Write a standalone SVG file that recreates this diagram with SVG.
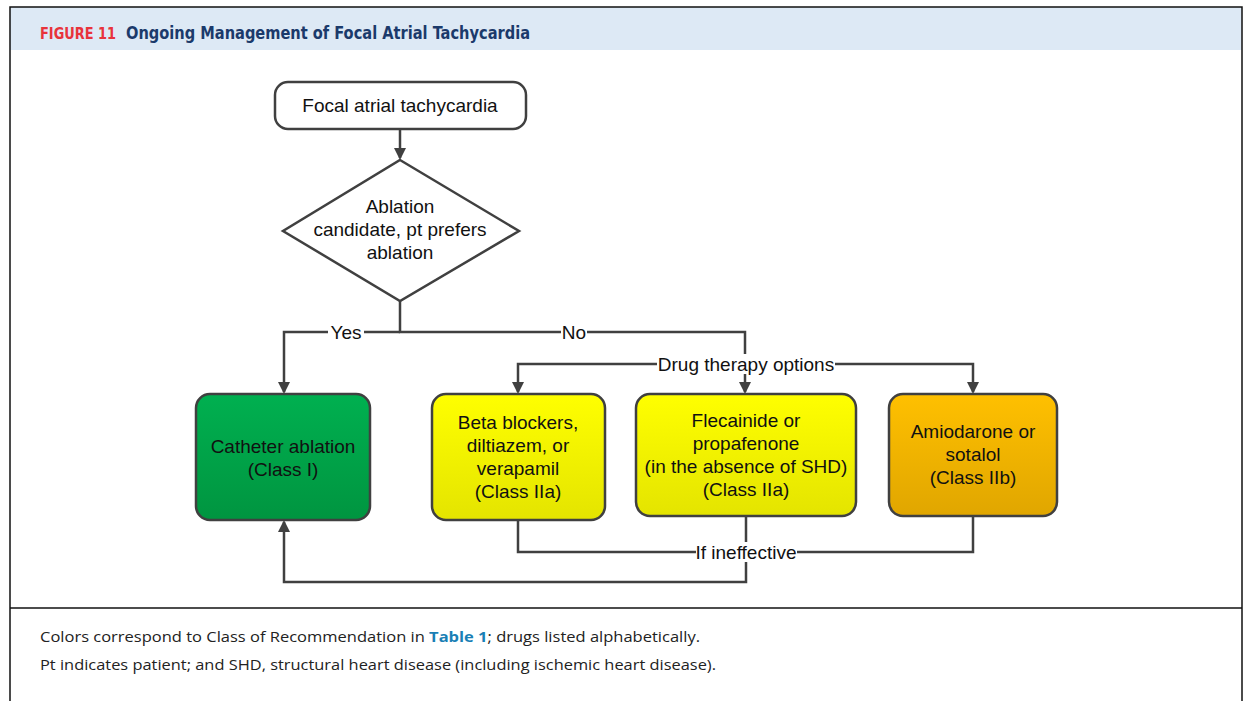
<svg xmlns="http://www.w3.org/2000/svg" width="1247" height="701" viewBox="0 0 1247 701">
<style>
.frame{fill:none;stroke:#111;stroke-width:1.5}
.box{stroke:#404040;stroke-width:2.5}
.ln{fill:none;stroke:#404040;stroke-width:2.5}
.t{font-family:"Liberation Sans",Arial,sans-serif;font-size:19px;fill:#111;text-anchor:middle}
.lbl{font-family:"Liberation Sans",Arial,sans-serif;font-size:19px;fill:#111;text-anchor:middle}
.cap{font-family:"Open Sans","DejaVu Sans",sans-serif;font-size:15px;fill:#222}
</style>
<defs>
<marker id="ah" markerWidth="12" markerHeight="12" refX="10" refY="6" orient="auto" markerUnits="userSpaceOnUse" viewBox="0 0 12 12">
<path d="M0,0 L12,6 L0,12 z" fill="#404040"/>
</marker>
<linearGradient id="gGreen" x1="0" y1="0" x2="0" y2="1"><stop offset="0" stop-color="#00b050"/><stop offset="1" stop-color="#009540"/></linearGradient>
<linearGradient id="gYellow" x1="0" y1="0" x2="0" y2="1"><stop offset="0" stop-color="#ffff00"/><stop offset="1" stop-color="#e4e400"/></linearGradient>
<linearGradient id="gOrange" x1="0" y1="0" x2="0" y2="1"><stop offset="0" stop-color="#ffc000"/><stop offset="1" stop-color="#e0a600"/></linearGradient>
</defs>
<rect width="1247" height="701" fill="#fff"/>
<rect x="10" y="7" width="1232" height="43" fill="#dde9f5"/>
<path class="frame" d="M10,710 V7 H1242 V710"/>
<line class="frame" x1="10" y1="608" x2="1242" y2="608"/>
<text x="40" y="39" font-family="'DejaVu Sans Condensed','DejaVu Sans',sans-serif" font-weight="bold" font-size="16" fill="#e8333b" textLength="76" lengthAdjust="spacingAndGlyphs">FIGURE 11</text>
<text x="126" y="39" font-family="'DejaVu Sans Condensed','DejaVu Sans',sans-serif" font-weight="bold" font-size="17" fill="#1b3a6b" textLength="404" lengthAdjust="spacingAndGlyphs">Ongoing Management of Focal Atrial Tachycardia</text>
<g id="connectors">
<line class="ln" x1="400" y1="129" x2="400" y2="158" marker-end="url(#ah)"/>
<polyline class="ln" points="400,301 400,332 745,332 745,392" marker-end="url(#ah)"/>
<polyline class="ln" points="400,332 284,332 284,392" marker-end="url(#ah)"/>
<polyline class="ln" points="745,364 518,364 518,392" marker-end="url(#ah)"/>
<polyline class="ln" points="745,364 973,364 973,392" marker-end="url(#ah)"/>
<polyline class="ln" points="518,520 518,552 973,552 973,516"/>
<polyline class="ln" points="746,516 746,582 284,582 284,522" marker-end="url(#ah)"/>
<rect x="328" y="322" width="36" height="20" fill="#fff"/>
<text class="lbl" x="346" y="339">Yes</text>
<rect x="561" y="322" width="26" height="20" fill="#fff"/>
<text class="lbl" x="574" y="339">No</text>
<rect x="657" y="354" width="178" height="20" fill="#fff"/>
<text class="lbl" x="746" y="371">Drug therapy options</text>
<rect x="696" y="542" width="101" height="20" fill="#fff"/>
<text class="lbl" x="746" y="559">If ineffective</text>
</g>
<g id="n-start">
<rect class="box" x="275" y="82" width="251" height="47" rx="13" fill="#fff"/>
<text class="t" x="400" y="112">Focal atrial tachycardia</text>
</g>
<g id="n-decision">
<polygon class="box" points="400,160 519,231 400,301 283,231" fill="#fff"/>
<text class="t" x="400" y="213">Ablation</text>
<text class="t" x="400" y="236">candidate, pt prefers</text>
<text class="t" x="400" y="259">ablation</text>
</g>
<g id="n-ablation">
<rect class="box" x="196" y="394" width="174" height="126" rx="14" fill="url(#gGreen)"/>
<text class="t" x="283" y="453">Catheter ablation</text>
<text class="t" x="283" y="476">(Class I)</text>
</g>
<g id="n-beta">
<rect class="box" x="432" y="394" width="173" height="126" rx="14" fill="url(#gYellow)"/>
<text class="t" x="518" y="429">Beta blockers,</text>
<text class="t" x="518" y="452">diltiazem, or</text>
<text class="t" x="518" y="475">verapamil</text>
<text class="t" x="518" y="498">(Class IIa)</text>
</g>
<g id="n-flec">
<rect class="box" x="636" y="394" width="220" height="122" rx="14" fill="url(#gYellow)"/>
<text class="t" x="746" y="427">Flecainide or</text>
<text class="t" x="746" y="450">propafenone</text>
<text class="t" x="746" y="473">(in the absence of SHD)</text>
<text class="t" x="746" y="496">(Class IIa)</text>
</g>
<g id="n-amio">
<rect class="box" x="889" y="394" width="168" height="122" rx="14" fill="url(#gOrange)"/>
<text class="t" x="973" y="438">Amiodarone or</text>
<text class="t" x="973" y="461">sotalol</text>
<text class="t" x="973" y="484">(Class IIb)</text>
</g>
<text class="cap" x="40" y="642" textLength="660" lengthAdjust="spacingAndGlyphs">Colors correspond to Class of Recommendation in <tspan fill="#1a7fb5" font-weight="bold">Table 1</tspan>; drugs listed alphabetically.</text>
<text class="cap" x="40" y="670" textLength="676" lengthAdjust="spacingAndGlyphs">Pt indicates patient; and SHD, structural heart disease (including ischemic heart disease).</text>
</svg>
